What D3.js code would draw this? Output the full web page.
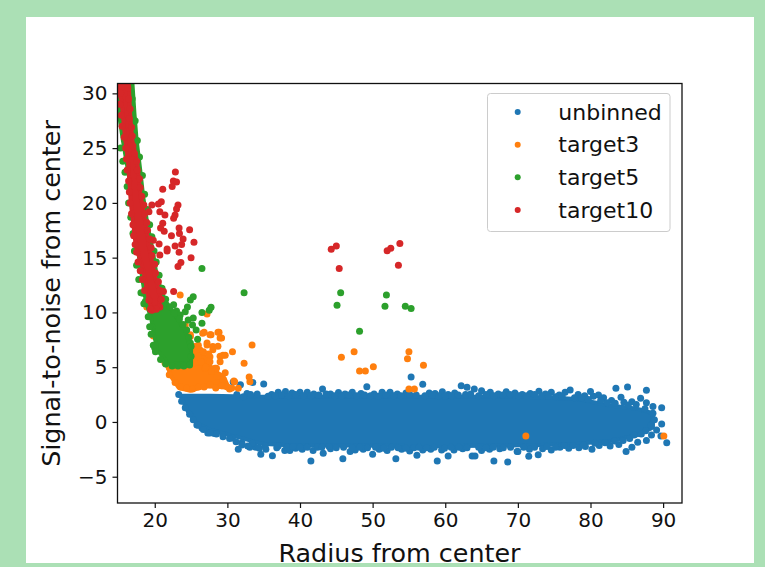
<!DOCTYPE html>
<html lang="en">
<head>
<meta charset="UTF-8">
<title>Signal-to-noise vs radius</title>
<script src="https://d3js.org/d3.v7.min.js"></script>
<style>
  body { margin: 0; background: #abe0b5; }
  svg { display: block; }
  text { font-family: "DejaVu Sans", sans-serif; fill: #111; }
</style>
</head>
<body>
<div id="chart"></div>
<script>
var seriesNames = ["unbinned", "target3", "target5", "target10"];
var seriesColors = ["#1f77b4", "#ff7f0e", "#2ca02c", "#d62728"];
var xTicks = [20, 30, 40, 50, 60, 70, 80, 90];
var yTicks = [-5, 0, 5, 10, 15, 20, 25, 30];

// the dense part of each cloud can't be read point by point, so it is an outline read off the picture
var unbinnedCoreRadius = [23.6, 24.6, 25.8, 27.6, 31, 34.7, 37.7, 41.8, 46.9, 55, 62, 68.9, 73.5, 78.2, 82.7, 86.5, 88.6];
var unbinnedCoreLow = [2.3, 0.9, -0.1, -0.7, -1.3, -2.0, -2.1, -2.15, -2.15, -2.2, -2.2, -2.15, -2.1, -2.0, -1.75, -1.2, -0.5];
var unbinnedCoreHigh = [2.4, 2.4, 2.4, 2.4, 2.35, 2.3, 2.3, 2.3, 2.3, 2.3, 2.3, 2.3, 2.25, 2.1, 1.5, 1.2, 0.8];

var target3Core = [[21.4, 5.6], [22.3, 4.1], [23.3, 3.1], [24.9, 2.85], [26.9, 3.25], [29, 3.2], [30.2, 3.1], [29.6, 4], [27.9, 4.9], [26.8, 6], [25.6, 6.8], [24.9, 6.6]];
var target5Core = [[16.9, 31.2], [17.2, 28.2], [17.5, 25.75], [18.0, 23], [18.4, 20.6], [19, 18], [19.7, 15.7], [20.3, 13.2], [21.4, 11.1], [22.6, 10], [24.3, 8.2], [25, 6.6], [25, 5.3], [21.8, 5.4], [20.4, 6.5], [19.9, 7.95], [19.5, 9.5], [18.8, 10.9], [18, 14.3], [17.4, 17], [17, 19], [16.7, 21.4], [16.3, 23], [15.6, 25.75], [14.8, 29.4], [14.4, 31.2]];
var target10Core = [[16.4, 31.2], [16.6, 28.2], [16.9, 25.75], [17.6, 23.65], [18, 20.9], [18.7, 18.2], [19.2, 16], [19.4, 15.4], [20.05, 13.2], [20.8, 11.4], [20.6, 10.6], [19.5, 10.4], [19.2, 11.1], [18.4, 13.9], [17.7, 15.4], [17.4, 16], [16.7, 20], [16.3, 23.9], [15.9, 26], [15.4, 29.4], [14.4, 31.2]];

// separate points around the clouds: [radius, signal-to-noise]
var unbinnedPoints = [
  [25.8, -0.27], [26.5, -0.55], [27.3, -1], [28.2, -1.05], [29.4, -1.2], [30.7, -1.46], [31.5, -2.5], [32, -1.9], [33.1, -2.3], [33.9, -2.3], [33.4, -1.95], [34.6, -2.95], [35.2, -2.2], [36.2, -3.08], [36.8, -2.35],
  [37.9, -2.6], [38.6, -2.6], [39.4, -2.4], [40.3, -2.5], [41.5, -3.56], [41.8, -2.6], [42.4, -2.3], [43.2, -2.85], [44.2, -2.45], [45, -2.35], [45.9, -3.35], [46.9, -2.7], [47.6, -2.55], [48.7, -2.5], [50, -2.95], [50.9, -2.5],
  [52, -2.6], [53.2, -3.35], [54, -2.5], [55.1, -2.65], [56.1, -3.04], [56.9, -2.55], [58, -2.5], [58.9, -3.56], [59.5, -2.55], [60.4, -3.1], [61.2, -2.55], [62.4, -2.45], [63.7, -3.1], [64.1, -3.1], [65, -2.6], [66.1, -2.5], [66.7, -3.56], [67.5, -2.45], [68.6, -3.65], [69.9, -2.7], [70, -2.7],
  [71.5, -3.13], [71.6, -2.5], [72.8, -3], [73.4, -2.45], [74.6, -2.55], [75.8, -2.3], [77, -2.4], [78.4, -2.35], [79.3, -2.25], [80.2, -2.5], [81.2, -2.15], [82.7, -2.2], [83.9, -2.05], [84.9, -2.7], [85.7, -2.3], [86.5, -1.85], [87.7, -1.7], [88.4, -1.2], [89.1, -0.73], [89.7, -1.28], [90.5, -1.89], [89.8, -0.18],
  [89.8, 1.3], [88.6, 1.4], [87.7, 1.76], [86.9, 2.16], [85.7, 1.85], [84.6, 1.8], [84.2, 2.25], [83.5, 3.07], [85.1, 3.2], [87.7, 2.9], [82.9, 1.95], [81.8, 2.2], [81.1, 2.45], [80.4, 2.35], [80, 2.77], [79.2, 2.4], [78.3, 2.5], [77.2, 2.92], [76.5, 2.7], [75.7, 2.45], [74.6, 2.7], [73.8, 2.55], [72.9, 2.8], [71.7, 2.6], [70.6, 2.5],
  [69.6, 2.65], [68.4, 2.75], [67.3, 2.55], [66.2, 2.7], [65, 2.85], [64, 3.0], [63, 3.17], [62.2, 3.3], [61.3, 2.65], [60.4, 2.5], [59.6, 2.75], [58.6, 2.6], [57.8, 2.65], [56.9, 3.44], [55.3, 4.1], [54.6, 2.65], [53.4, 2.55], [52.4, 2.7], [51.3, 2.7], [50.2, 2.55], [49.2, 3.22], [48.4, 2.6], [47.2, 2.7], [46.2, 2.55], [45.3, 2.68],
  [44.2, 2.55], [43.1, 3.0], [41.9, 2.55], [41, 2.7], [40, 2.7], [38.9, 2.65], [38, 2.77], [37, 2.7], [36.1, 2.5], [35, 3.47], [34.1, 2.55], [33.5, 3.6], [32.7, 2.6], [31.8, 3.4], [30.8, 3.65],
  // left flank
  [23.3, 2.5], [23.7, 1.9], [24.2, 1.3], [24.8, 0.7], [25.3, 0.2], [26, -0.3], [26.7, -0.7], [27.6, -1], [28.5, -1.1], [29.4, -1.35], [30.3, -1.5], [31.2, -1.8], [32, -2.1], [32.8, -2.2], [34.4, -2.4], [35.3, -2.5],
  // extra along the top
  [31.3, 2.5], [32.2, 2.3], [33.2, 2.5], [35.6, 2.35], [36.6, 2.4], [37.5, 2.45], [38.4, 2.4], [39.4, 2.5], [40.5, 2.4], [41.5, 2.4], [42.6, 2.45], [43.6, 2.55], [44.8, 2.4], [45.7, 2.4], [46.7, 2.45], [47.8, 2.4], [48.9, 2.45], [49.7, 2.4], [50.8, 2.35], [51.8, 2.45], [52.9, 2.4], [53.9, 2.4], [55.1, 2.5], [56, 2.45], [57.2, 2.4], [58.2, 2.45], [59.1, 2.4], [60, 2.35], [60.9, 2.4], [61.8, 2.45], [62.8, 2.5], [63.5, 2.55], [64.6, 2.4], [65.6, 2.5], [66.7, 2.4], [67.9, 2.45], [68.9, 2.5], [70.1, 2.4], [71.2, 2.4], [72.3, 2.5], [73.3, 2.4], [74.2, 2.35], [75.2, 2.3], [76.1, 2.35], [77.8, 2.2], [78.8, 2.2], [79.7, 2.05], [81.4, 1.95], [82.3, 1.75], [83.4, 1.7], [85.2, 1.55], [86.3, 1.6],
  // extra along the bottom
  [37, -2.2], [38.2, -2.3], [39, -2.25], [40, -2.3], [41, -2.3], [43, -2.3], [44, -2.25], [46, -2.3], [47.2, -2.35], [48.2, -2.3], [49.3, -2.35], [50.4, -2.3], [51.5, -2.4], [52.6, -2.3], [53.5, -2.35], [54.6, -2.4], [55.7, -2.35], [56.4, -2.3], [57.4, -2.35], [58.5, -2.3], [59.9, -2.4], [60.8, -2.3], [61.9, -2.3], [63, -2.35], [64.6, -2.3], [65.6, -2.35], [66.6, -2.3], [68, -2.35], [69, -2.3], [70.8, -2.3], [72.3, -2.3], [74, -2.25], [75.2, -2.3], [76.4, -2.15], [77.6, -2.15], [79, -2.1], [80.6, -1.95], [82, -1.9], [83.3, -1.75], [84.5, -1.7], [85.4, -1.5], [86, -1.2], [87, -1.1], [87.6, -0.8], [88.3, -0.3], [88.8, 0.2], [88.6, 0.8], [87.5, 1.2]
];
var target3Points = [
  [23.5, 11.6], [27.2, 9.86], [26.8, 8.2], [27.75, 7.95], [28.85, 8.2], [29.2, 7.67], [33.4, 7.03], [30.7, 6.42], [29.7, 6.1], [29, 6], [32.3, 5.37], [27.6, 5.96], [27.2, 7.03], [28, 6.88], [26.2, 6.6], [24.9, 7.8], [24.6, 7.2], [25.5, 6.88], [25.8, 6.3], [26.2, 5.5], [27.2, 5.05], [28.3, 4.9], [29.7, 4.5], [31, 3.68], [33, 4.1], [33.1, 3.68], [31.5, 3.08], [30.3, 3], [22.8, 9.6], [24.2, 8.86], [19.8, 7.85], [18.9, 10.5], [29, 4.2], [30.9, 3.74],
  [24.9, 7.95], [26, 7], [27.2, 7.2], [28, 6.6], [28.7, 6.9], [29, 7.67], [27.6, 7.95], [26.6, 8.1], [28.7, 8.2], [26, 6], [25.5, 5.4], [27.6, 5.5], [26.9, 4.9], [28.5, 4.9], [29.4, 6.1], [29, 5.5], [26.7, 6.4], [27.4, 6.2],
  [22, 4.3], [22.8, 3.6], [23.6, 3.2], [24.4, 3.1], [25.2, 3], [26, 3.2], [26.8, 3.2], [27.6, 3.4], [28.4, 3.1], [29.2, 3.3], [30, 3.2], [30.6, 3.1], [29.4, 3.9], [28.6, 4.2], [27.8, 4.6], [27, 5], [26.4, 5.5], [22, 5], [21.4, 5.4],
  [45.7, 5.9], [47.45, 6.42], [48.2, 4.66], [49, 4.66], [50.1, 5.05], [55, 6.42], [54.8, 5.78], [57, 5.18], [55, 3], [55.75, 3],
  [71.1, -1.28], [90.1, -1.28]
];
var target5Points = [
  [26.5, 14], [32.3, 11.8], [25.3, 11.44], [24.9, 11.14], [22.6, 10.7], [23, 10.14], [24.5, 10.5], [24.2, 10.07], [27.75, 10.47], [27.5, 10.2], [26.5, 10], [25.3, 9.5], [26.5, 9], [25.2, 8.86], [25.7, 8.4], [25.9, 7.55], [24.9, 7.2], [18.7, 11], [18.4, 11.75], [17.5, 14.3], [23.5, 9.77], [24.6, 9.3], [19.6, 8.7], [20, 6.76],
  [15.3, 25], [15.6, 23.8], [15.9, 22.8], [16.2, 21.5], [16.4, 20], [16.7, 18.7], [17, 17.2], [17.2, 15.6], [17.8, 13], [18.1, 11.8], [18.5, 10.8], [19.1, 9.6], [19.3, 8.7], [19.5, 8], [19.8, 7], [20.1, 6.4], [20.8, 5.7], [21.5, 5.3], [22.4, 5.1], [23.2, 5.1], [24, 5.1], [24.8, 5.2], [25, 6], [25, 6.9], [24.7, 7.7], [24.4, 8.4], [23.9, 8.9], [23.4, 9.4], [22.7, 9.9], [22.1, 10.5], [21.5, 11.2], [21, 12.2], [20.6, 13.4], [20.2, 14.6], [19.9, 15.6], [19.6, 16.9], [19.3, 18], [19, 19.4], [18.6, 20.8], [18.3, 22.5], [17.9, 24.2], [17.6, 25.7], [17.3, 27.5], [16.9, 29.5],
  [45.6, 11.8], [45.1, 10.66], [51.9, 11.6], [51.7, 10.56], [54.5, 10.56], [55.3, 10.35], [48.2, 8.28]
];
var target10Points = [
  [22.84, 22.83], [22.56, 22], [23, 21.9], [22.4, 21.5], [21.1, 21.25], [23.2, 19.8], [23, 19.45], [20.9, 20.1], [20.5, 19.9], [19.6, 19.8], [19.2, 19.2], [20.7, 19.2], [21.4, 18.9], [22.8, 18.9], [22.6, 18.6], [21.1, 18.15], [20.8, 17.7], [21.3, 17.4], [23.35, 17.7], [24.8, 17.55], [23.4, 17.2], [22.3, 17], [23.9, 16.7], [25.4, 16.4], [23.7, 16.2], [22.8, 16.07], [20.6, 16.25], [19.8, 16.6], [21.7, 15.8], [21.7, 15.6], [23.35, 15.5], [25, 15], [20.7, 15.25], [23.6, 14.55], [23.2, 14.2], [22.6, 11.9], [21.2, 11.9],
  [16.3, 30.5], [16.4, 29.5], [16.6, 28.6], [16.5, 27.7], [16.8, 26.9], [16.9, 26.1], [17, 25.2], [17.2, 24.5], [17.5, 23.8], [17.6, 23], [17.9, 22.2], [18, 21.4], [18.2, 20.6], [18.5, 19.8], [18.6, 19], [18.9, 18.2], [19, 17.5], [19.3, 16.7], [19.5, 15.9], [19.6, 15.2], [20, 14.4], [20.1, 13.6], [20.5, 12.8], [20.7, 12], [20.9, 11.2], [20.7, 10.5], [20.2, 10.3], [19.6, 10.2], [19.4, 10.3], [19.2, 11.1],
  [18.6, 12], [18.3, 13], [18, 13.8], [17.7, 14.6], [17.5, 15.5], [17.3, 16.2], [17.1, 17], [17, 18], [16.8, 19], [16.6, 20], [16.5, 21], [16.4, 22], [16.2, 23], [16.1, 24], [16, 25], [15.8, 26], [15.5, 27], [15.4, 28], [15.2, 29], [15.3, 30],
  [45, 16.07], [44.3, 15.77], [45.4, 14], [53.75, 16.3], [52.5, 15.86], [52, 15.64], [53.55, 14.3]
];

var width = 765, height = 567;
var margin = {top: 83.5, right: 83, bottom: 64, left: 117.5};

var svg = d3.select("#chart").append("svg")
    .attr("width", width)
    .attr("height", height);

// white sheet behind the plot
svg.append("rect")
    .attr("x", 26).attr("y", 17)
    .attr("width", 728).attr("height", 546)
    .attr("fill", "#fff");

var x = d3.scaleLinear().domain([14.87, 92.6]).range([margin.left, width - margin.right]);
var y = d3.scaleLinear().domain([-7.4, 30.9]).range([height - margin.bottom, margin.top]);

svg.append("clipPath").attr("id", "plot-area").append("rect")
    .attr("x", margin.left).attr("y", margin.top)
    .attr("width", width - margin.left - margin.right)
    .attr("height", height - margin.top - margin.bottom);

var plot = svg.append("g").attr("clip-path", "url(#plot-area)");

var blobLine = d3.line().x(function(d) { return x(d[0]); }).y(function(d) { return y(d[1]); });
var unbinnedArea = d3.area()
    .x(function(d, i) { return x(unbinnedCoreRadius[i]); })
    .y0(function(d, i) { return y(unbinnedCoreLow[i]); })
    .y1(function(d, i) { return y(unbinnedCoreHigh[i]); });

function drawPoints(points, color) {
  plot.append("g").selectAll("circle")
    .data(points)
    .enter().append("circle")
    .attr("cx", function(d) { return x(d[0]); })
    .attr("cy", function(d) { return y(d[1]); })
    .attr("r", 3.5)
    .attr("fill", color);
}

function drawBlob(path, color) {
  plot.append("path")
    .attr("d", path)
    .attr("fill", color)
    .attr("stroke", color)
    .attr("stroke-width", 4)
    .attr("stroke-linejoin", "round");
}

drawBlob(unbinnedArea(unbinnedCoreRadius), seriesColors[0]);
drawPoints(unbinnedPoints, seriesColors[0]);
drawBlob(blobLine(target3Core) + "Z", seriesColors[1]);
drawPoints(target3Points, seriesColors[1]);
drawBlob(blobLine(target5Core) + "Z", seriesColors[2]);
drawPoints(target5Points, seriesColors[2]);
drawBlob(blobLine(target10Core) + "Z", seriesColors[3]);
drawPoints(target10Points, seriesColors[3]);

// axes
var xAxis = svg.append("g")
    .attr("transform", "translate(0," + (height - margin.bottom) + ")")
    .call(d3.axisBottom(x).tickValues(xTicks).tickSize(5).tickPadding(5).tickSizeOuter(0));
var yAxis = svg.append("g")
    .attr("transform", "translate(" + margin.left + ",0)")
    .call(d3.axisLeft(y).tickValues(yTicks).tickSize(5).tickPadding(5).tickSizeOuter(0));

svg.selectAll(".tick text").style("font-size", "20px").style("font-family", '"DejaVu Sans"');
svg.selectAll(".tick line").attr("stroke", "#111").attr("stroke-width", 1.2);
xAxis.select(".domain").remove();
yAxis.select(".domain").remove();

svg.append("rect")
    .attr("x", margin.left).attr("y", margin.top)
    .attr("width", width - margin.left - margin.right)
    .attr("height", height - margin.top - margin.bottom)
    .attr("fill", "none")
    .attr("stroke", "#111")
    .attr("stroke-width", 1.3);

svg.append("text")
    .attr("x", 399.5).attr("y", 562)
    .attr("text-anchor", "middle")
    .style("font-size", "25.4px")
    .text("Radius from center");
svg.append("text")
    .attr("transform", "translate(60,293.5) rotate(-90)")
    .attr("text-anchor", "middle")
    .style("font-size", "25.4px")
    .text("Signal-to-noise from center");

// legend
var legend = svg.append("g");
legend.append("rect")
    .attr("x", 487.5).attr("y", 93.5)
    .attr("width", 182.5).attr("height", 138)
    .attr("rx", 3)
    .attr("fill", "#fff")
    .attr("fill-opacity", 0.8)
    .attr("stroke", "#ccc");

var legendY = d3.scalePoint().domain(seriesNames).range([112, 210]);
seriesNames.forEach(function(name, i) {
  legend.append("circle")
    .attr("cx", 517.7).attr("cy", legendY(name))
    .attr("r", 3)
    .attr("fill", seriesColors[i]);
  legend.append("text")
    .attr("x", 558.3).attr("y", legendY(name) + 7.5)
    .style("font-size", "22px")
    .text(name);
});
</script>
</body>
</html>
